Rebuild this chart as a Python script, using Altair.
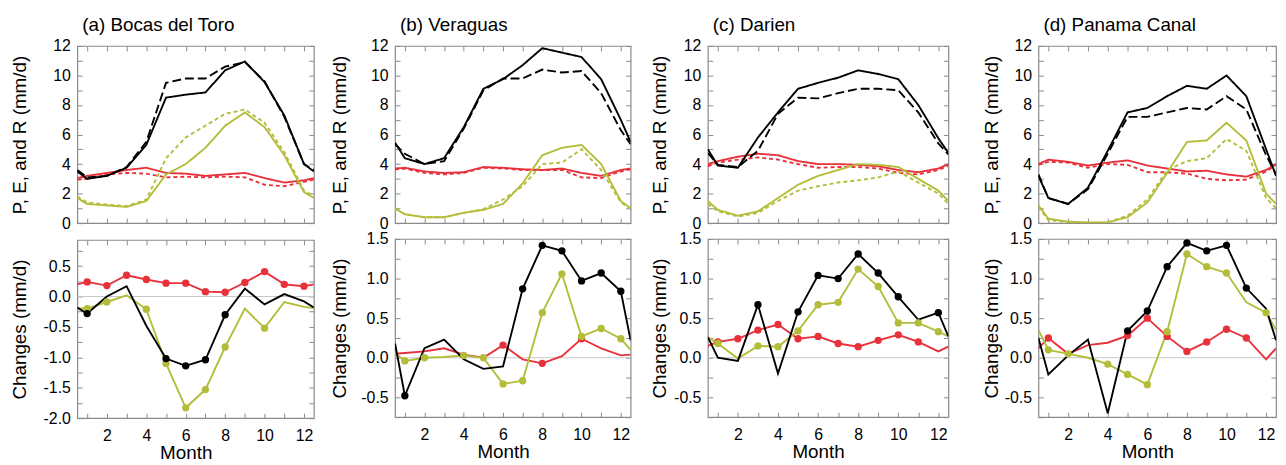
import altair as alt
import pandas as pd

# ---------------- data ----------------
months = [0.5, 1, 2, 3, 4, 5, 6, 7, 8, 9, 10, 11, 12, 12.5]
panel_titles = ["(a) Bocas del Toro", "(b) Veraguas", "(c) Darien", "(d) Panama Canal"]
region_codes = ["a", "b", "c", "d"]

# top panels: solid (first period) and dashed (second period)
P_solid_a = [3.5, 3.0, 3.2, 3.75, 5.3, 8.5, 8.7, 8.85, 10.35, 10.95, 9.55, 7.3, 4.0, 3.5]
P_dash_a = [3.6, 3.1, 3.2, 3.8, 5.5, 9.5, 9.8, 9.8, 10.6, 10.9, 9.6, 7.2, 4.0, 3.6]
R_solid_a = [1.7, 1.3, 1.2, 1.1, 1.5, 3.3, 4.0, 5.1, 6.6, 7.5, 6.5, 4.6, 2.1, 1.7]
R_dash_a = [1.8, 1.4, 1.25, 1.15, 1.6, 4.4, 5.8, 6.6, 7.4, 7.7, 6.8, 4.8, 2.2, 1.8]
E_solid_a = [3.05, 3.2, 3.4, 3.6, 3.75, 3.4, 3.35, 3.2, 3.3, 3.4, 3.05, 2.75, 2.9, 3.05]
E_dash_a = [2.95, 3.0, 3.3, 3.4, 3.35, 3.1, 3.15, 3.1, 3.15, 3.1, 2.6, 2.5, 2.8, 2.95]

P_solid_b = [5.45, 4.4, 4.0, 4.4, 6.5, 9.1, 9.75, 10.7, 11.85, 11.55, 11.25, 9.75, 7.0, 5.5]
P_dash_b = [5.35, 4.7, 4.0, 4.2, 6.4, 9.0, 9.8, 9.8, 10.4, 10.2, 10.3, 8.8, 6.3, 5.35]
R_solid_b = [1.0, 0.6, 0.4, 0.4, 0.7, 0.9, 1.3, 2.7, 4.6, 5.1, 5.3, 4.0, 1.5, 1.0]
R_dash_b = [1.0, 0.6, 0.4, 0.4, 0.7, 0.95, 1.6, 2.5, 4.0, 4.1, 5.0, 3.6, 1.4, 1.0]
E_solid_b = [3.7, 3.75, 3.5, 3.4, 3.45, 3.8, 3.75, 3.65, 3.6, 3.7, 3.4, 3.2, 3.6, 3.7]
E_dash_b = [3.65, 3.7, 3.4, 3.3, 3.4, 3.75, 3.7, 3.6, 3.6, 3.6, 3.1, 3.05, 3.5, 3.65]

P_solid_c = [5.0, 3.9, 3.75, 5.8, 7.5, 9.1, 9.5, 9.85, 10.35, 10.1, 9.75, 8.0, 5.75, 4.75]
P_dash_c = [4.75, 3.95, 3.8, 4.9, 7.4, 8.5, 8.45, 8.8, 9.1, 9.1, 9.0, 7.5, 5.4, 4.65]
R_solid_c = [1.5, 0.9, 0.5, 0.8, 1.7, 2.6, 3.2, 3.6, 4.0, 3.95, 3.8, 3.0, 2.2, 1.5]
R_dash_c = [1.3, 0.8, 0.45, 0.7, 1.5, 2.2, 2.5, 2.75, 2.9, 3.1, 3.5, 2.75, 2.0, 1.3]
E_solid_c = [4.0, 4.2, 4.5, 4.7, 4.6, 4.2, 4.0, 4.0, 3.95, 3.85, 3.6, 3.45, 3.7, 4.0]
E_dash_c = [3.85, 4.1, 4.3, 4.45, 4.3, 4.0, 3.75, 3.8, 3.8, 3.7, 3.4, 3.3, 3.6, 3.9]

P_solid_d = [3.2, 1.7, 1.3, 2.4, 4.9, 7.5, 7.8, 8.6, 9.3, 9.1, 10.0, 8.6, 5.0, 3.2]
P_dash_d = [3.3, 1.7, 1.3, 2.3, 4.7, 7.2, 7.2, 7.5, 7.8, 7.7, 8.6, 7.7, 4.6, 3.3]
R_solid_d = [1.2, 0.3, 0.1, 0.05, 0.05, 0.4, 1.4, 3.4, 5.5, 5.6, 6.8, 5.6, 2.0, 1.3]
R_dash_d = [1.1, 0.2, 0.05, 0.0, 0.05, 0.5, 1.6, 3.6, 4.2, 4.4, 5.7, 4.9, 1.7, 1.0]
E_solid_d = [4.0, 4.3, 4.15, 3.9, 4.1, 4.25, 3.9, 3.7, 3.5, 3.55, 3.3, 3.15, 3.6, 4.0]
E_dash_d = [3.95, 4.15, 4.1, 3.75, 4.0, 3.95, 3.45, 3.45, 3.35, 3.0, 2.9, 2.95, 3.5, 3.95]

# bottom panels: changes
dP_a = [-0.18, -0.28, 0.0, 0.17, -0.48, -1.02, -1.14, -1.04, -0.3, 0.13, -0.13, 0.04, -0.08, -0.18]
dR_a = [-0.19, -0.2, -0.09, 0.02, -0.21, -1.1, -1.83, -1.53, -0.83, -0.2, -0.52, -0.09, -0.17, -0.19]
dE_a = [0.2, 0.24, 0.18, 0.35, 0.28, 0.22, 0.22, 0.08, 0.07, 0.23, 0.41, 0.2, 0.17, 0.2]

dP_b = [0.18, -0.48, 0.12, 0.23, -0.02, -0.14, -0.11, 0.87, 1.42, 1.35, 0.97, 1.07, 0.84, 0.22]
dR_b = [0.06, -0.04, 0.0, 0.01, 0.03, 0.0, -0.33, -0.29, 0.57, 1.06, 0.27, 0.37, 0.24, 0.1]
dE_b = [0.05, 0.06, 0.08, 0.12, 0.04, 0.0, 0.16, -0.02, -0.07, 0.02, 0.24, 0.12, 0.03, 0.04]

dP_c = [0.26, 0.0, -0.04, 0.67, -0.2, 0.58, 1.04, 1.0, 1.31, 1.07, 0.77, 0.48, 0.57, 0.27]
dR_c = [0.26, 0.18, -0.01, 0.15, 0.14, 0.34, 0.67, 0.7, 1.12, 0.9, 0.44, 0.44, 0.33, 0.27]
dE_c = [0.15, 0.2, 0.24, 0.35, 0.42, 0.24, 0.27, 0.18, 0.14, 0.22, 0.29, 0.2, 0.08, 0.14]

dP_d = [0.25, -0.21, 0.03, 0.23, -0.7, 0.34, 0.59, 1.15, 1.45, 1.35, 1.42, 0.88, 0.62, 0.22]
dR_d = [0.35, 0.1, 0.05, 0.0, -0.08, -0.21, -0.34, 0.33, 1.31, 1.15, 1.07, 0.7, 0.57, 0.35]
dE_d = [0.12, 0.25, 0.05, 0.16, 0.19, 0.28, 0.5, 0.27, 0.08, 0.2, 0.36, 0.25, -0.02, 0.12]

# months marked with dots (significant changes)
sigP_a = [1, 5, 6, 7, 8]
sigR_a = [1, 2, 4, 5, 6, 7, 8, 10]
sigE_a = [1, 2, 3, 4, 5, 6, 7, 8, 9, 10, 11, 12]
sigP_b = [1, 7, 8, 9, 10, 11, 12]
sigR_b = [1, 2, 4, 5, 6, 7, 8, 9, 10, 11, 12]
sigE_b = [6, 8, 10]
sigP_c = [3, 5, 6, 7, 8, 9, 10, 12]
sigR_c = [1, 3, 4, 5, 6, 7, 8, 9, 10, 11, 12]
sigE_c = [1, 2, 3, 4, 5, 6, 7, 8, 9, 10, 11]
sigP_d = [5, 6, 7, 8, 9, 10, 11]
sigR_d = [1, 2, 4, 5, 6, 7, 8, 9, 10, 12]
sigE_d = [1, 5, 6, 7, 8, 9, 10, 11]

zero_line = [0.0]
top_ticks = list(range(0, 13))
top_labels = [0, 2, 4, 6, 8, 10, 12]
month_ticks = list(range(1, 13))
month_labels = [2, 4, 6, 8, 10, 12]
bottom_ticks = [-2.0, -1.75, -1.5, -1.25, -1.0, -0.75, -0.5, -0.25, 0.0, 0.25, 0.5, 0.75, 1.0, 1.25, 1.5]
bottom_domains = {"a": [-2.0, 0.93], "b": [-0.75, 1.5], "c": [-0.75, 1.5], "d": [-0.75, 1.5]}
bottom_labels = {"a": [-2.0, -1.5, -1.0, -0.5, 0.0, 0.5],
                 "b": [-0.5, 0.0, 0.5, 1.0, 1.5], "c": [-0.5, 0.0, 0.5, 1.0, 1.5],
                 "d": [-0.5, 0.0, 0.5, 1.0, 1.5]}

G = globals()

# ---------------- style ----------------
FONT = "Liberation Sans"
GRAY = "#8a8a8a"
color_scale = alt.Scale(domain=["P", "R", "E"], range=["#000000", "#b4bd3a", "#e8313b"])
dash_scale = alt.Scale(domain=["solid", "long", "short"], range=[[1, 0], [9, 4], [4, 3]])
x_scale = alt.Scale(domain=[0.5, 12.5], nice=False, zero=False)

widths = {"a": 239, "b": 238, "c": 243, "d": 240}
extents = {"a": 46, "b": 44, "c": 37, "d": 35}
vgap = {"a": 6, "b": -2, "c": -2, "d": -2}
TOP_H = 179
BOT_H = 180


def inward(orient, values):
    return alt.Axis(orient=orient, values=values, labels=False, domain=False, grid=False,
                    ticks=True, tickSize=5, tickColor=GRAY, tickWidth=1, offset=-5,
                    title=None, minExtent=0, maxExtent=0)


def top_panel(code, title):
    rows = []
    for var in ["E", "R", "P"]:
        for per, style in [("solid", "solid"), ("dash", "long" if var == "P" else "short")]:
            vals = G[f"{var}_{per}_{code}"]
            for m, v in zip(months, vals):
                rows.append({"month": m, "value": v, "var": var, "style": style})
    df = pd.DataFrame(rows)
    y_scale = alt.Scale(domain=[0, 12], nice=False, zero=False)
    E = extents[code]

    def lines(var, xaxis, yaxis):
        return alt.Chart(df[df["var"] == var]).mark_line(strokeWidth=1.9, clip=True).encode(
            x=alt.X("month:Q", scale=x_scale, axis=xaxis),
            y=alt.Y("value:Q", scale=y_scale, axis=yaxis),
            color=alt.Color("var:N", scale=color_scale, legend=None),
            strokeDash=alt.StrokeDash("style:N", scale=dash_scale, legend=None),
        )

    left_axis = alt.Axis(orient="left", values=top_labels, format="d", ticks=False, domain=False,
                         grid=False, labelFontSize=16, labelPadding=7, labelFont=FONT,
                         labelColor="black", title="P, E, and R (mm/d)", titleFontSize=19,
                         titleFont=FONT, titleFontWeight="normal", titleColor="black",
                         titlePadding=2, minExtent=E, maxExtent=E)
    layer = alt.layer(
        lines("E", inward("bottom", month_ticks), inward("left", top_ticks)),
        lines("R", inward("top", month_ticks), inward("right", top_ticks)),
        lines("P", None, left_axis),
    ).resolve_axis(x="independent", y="independent").properties(
        width=widths[code], height=TOP_H,
        title=alt.TitleParams(title, anchor="start", frame="group", dx=5, offset=3,
                              fontSize=19, fontWeight="normal", font=FONT, color="black"),
    )
    return layer


def bottom_panel(code):
    rows = []
    for var in ["E", "R", "P"]:
        vals = G[f"d{var}_{code}"]
        sig = G[f"sig{var}_{code}"]
        for m, v in zip(months, vals):
            rows.append({"month": m, "value": v, "var": var, "sig": m in sig})
    df = pd.DataFrame(rows)
    y_scale = alt.Scale(domain=bottom_domains[code], nice=False, zero=False)
    E = extents[code]
    lo, hi = bottom_domains[code]
    yticks = [t for t in bottom_ticks if lo <= t <= hi]

    def lines(var, xaxis, yaxis):
        return alt.Chart(df[df["var"] == var]).mark_line(strokeWidth=1.9, clip=True).encode(
            x=alt.X("month:Q", scale=x_scale, axis=xaxis),
            y=alt.Y("value:Q", scale=y_scale, axis=yaxis),
            color=alt.Color("var:N", scale=color_scale, legend=None),
        )

    def dots(var):
        d = df[(df["var"] == var) & (df["sig"])]
        return alt.Chart(d).mark_circle(size=55, opacity=1).encode(
            x=alt.X("month:Q", scale=x_scale, axis=None),
            y=alt.Y("value:Q", scale=y_scale, axis=None),
            color=alt.Color("var:N", scale=color_scale, legend=None),
        )

    left_axis = alt.Axis(orient="left", values=bottom_labels[code],
                         labelExpr="datum.value < 0 ? '-' + format(-datum.value, '.1f') : format(datum.value, '.1f')",
                         ticks=False, domain=False, grid=False, labelFontSize=16, labelPadding=7,
                         labelFont=FONT, labelColor="black", title="Changes (mm/d)",
                         titleFontSize=19, titleFont=FONT, titleFontWeight="normal",
                         titleColor="black", titlePadding=2, minExtent=E, maxExtent=E)
    bottom_axis = alt.Axis(orient="bottom", values=month_labels, format="d", ticks=False,
                           domain=False, grid=False, labelFontSize=16, labelPadding=10,
                           labelFont=FONT, labelColor="black", title="Month", titleFontSize=19,
                           titleFont=FONT, titleFontWeight="normal", titleColor="black",
                           titlePadding=0, titleX=widths[code] * 5.5 / 12)
    zero = alt.Chart(pd.DataFrame({"value": zero_line})).mark_rule(
        color="#c8c8c8", strokeWidth=1.2).encode(
        y=alt.Y("value:Q", scale=y_scale, axis=None))
    layer = alt.layer(
        zero,
        lines("E", inward("bottom", month_ticks), inward("left", yticks)),
        lines("R", inward("top", month_ticks), inward("right", yticks)),
        lines("P", bottom_axis, left_axis),
        dots("E"), dots("R"), dots("P"),
    ).resolve_axis(x="independent", y="independent").properties(width=widths[code], height=BOT_H)
    return layer


cols = {}
for code, title in zip(region_codes, panel_titles):
    cols[code] = alt.vconcat(top_panel(code, title), bottom_panel(code), spacing=vgap[code])

chart = alt.hconcat(
    alt.hconcat(alt.hconcat(cols["a"], cols["b"], spacing=14), cols["c"], spacing=17),
    cols["d"], spacing=32,
).properties(
    padding={"left": 2, "top": 5, "right": 0, "bottom": 0}
).configure_view(stroke=GRAY, strokeWidth=1.2).configure_axis(grid=False)

chart.save("out.html", embed_options={"renderer": "svg", "actions": False})
